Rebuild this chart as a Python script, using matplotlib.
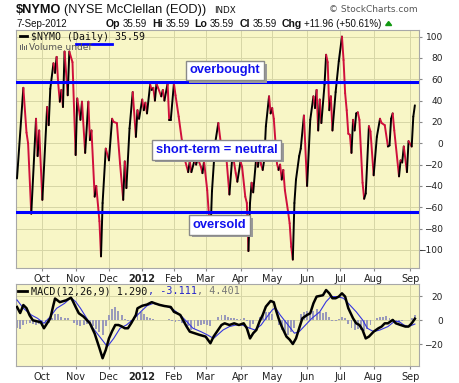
import matplotlib
matplotlib.use('Agg')
import numpy as np
import pandas as pd
import matplotlib.pyplot as plt
from matplotlib.collections import LineCollection
from matplotlib import patheffects as pe
from matplotlib.lines import Line2D
from matplotlib.patches import Rectangle, Polygon

# ---------------- data ----------------
holidays = ['2011-11-24', '2011-12-26', '2012-01-02', '2012-01-16', '2012-02-20',
            '2012-04-06', '2012-05-28', '2012-07-04', '2012-09-03']
start_date = '2011-09-09'
end_date = '2012-09-07'

month_labels = ['Oct', 'Nov', 'Dec', '2012', 'Feb', 'Mar', 'Apr', 'May', 'Jun', 'Jul', 'Aug', 'Sep']

# NYMO turning points (trading-day index, value)
nymo_day = [0, 4, 6, 7, 9, 12, 13, 14, 16, 19, 20, 21, 23, 24, 25, 26, 27, 28, 29, 30,
            32, 33, 35, 37, 38, 40, 41, 43, 45, 46, 47, 49, 50, 52, 53, 54, 56, 58, 60, 61,
            63, 65, 67, 68, 69, 71, 73, 75, 76, 77, 79, 80, 81, 82, 84, 85, 86, 87, 88, 89,
            91, 92, 93, 95, 96, 97, 99, 100, 102, 104, 106, 108, 109, 110, 112, 113, 114, 116, 117, 118,
            120, 121, 122, 123, 125, 127, 129, 131, 132, 134, 136, 138, 139, 141, 142, 144, 145, 146, 147, 148,
            149, 151, 152, 153, 154, 155, 156, 157, 159, 160, 161, 162, 164, 165, 166, 167, 168, 169, 171, 172,
            173, 174, 175, 176, 178, 179, 181, 183, 185, 187, 188, 189, 190, 191, 192, 194, 195, 196, 197, 198,
            199, 201, 203, 205, 206, 207, 208, 209, 210, 211, 212, 213, 214, 215, 216, 218, 219, 220, 222, 223,
            225, 227, 229, 230, 232, 234, 235, 236, 237, 238, 241, 242, 243, 244, 246, 247, 249, 250, 251]
nymo_val = [-33, 52, 10, 0, -66, 23, -12, 12, -53, 34, 17, 51, 75, 66, 81, 56, 39, 50, 34, 86,
            45, 86, 76, -11, 42, 22, 39, -9, 39, 3, 12, -50, -40, -73, -106, -56, -5, -16, 23, 20,
            19, -19, -53, -17, -42, 14, 48, 6, 31, 23, 41, 31, 38, 28, 55, 50, 52, 40, 56, 52,
            44, 50, 40, 56, 22, 22, 56, 45, 25, 3, -16, -27, -17, -27, -16, -20, -14, -22, -28, -17,
            -44, -66, -86, -45, 0, 19, -5, -16, -12, -48, -9, -28, -36, -17, -22, -50, -56, -101, -56, -37,
            -46, -12, -22, -10, -20, -25, -15, 16, 44, 28, 33, 23, -19, -25, -20, -34, -25, -44, -64, -75,
            -97, -109, -56, -34, -12, -5, 26, -40, 22, 44, 33, 50, 12, 41, 19, 55, 83, 76, 31, 44,
            12, 48, 77, 100, 78, 47, 31, 9, 8, -9, 22, 12, 28, 29, 22, -37, -52, -47, 16, 11,
            -30, 6, 23, 19, 17, -3, -2, 23, 28, 12, -31, -16, -18, -3, -27, 2, -3, 25, 35.59]

overbought = 57
oversold = -64

macd_day = [0, 2, 4, 6, 8, 10, 13, 15, 17, 19, 21, 23, 24, 27, 31, 34, 35, 37, 39, 42,
            46, 49, 52, 54, 56, 58, 60, 62, 64, 66, 68, 70, 72, 75, 76, 79, 82, 85, 87, 90,
            93, 97, 99, 101, 103, 105, 107, 109, 112, 115, 119, 122, 124, 129, 131, 134, 137, 140, 143, 145,
            147, 149, 151, 153, 155, 157, 160, 162, 163, 165, 167, 170, 172, 174, 176, 178, 180, 183, 185, 187,
            189, 193, 195, 197, 199, 201, 203, 205, 207, 209, 212, 214, 216, 218, 220, 222, 225, 228, 230, 232,
            234, 237, 239, 242, 245, 247, 249, 251]
macd_val = [11, 6, 12.6, 10, 4, 0, -1, -1.5, -6.6, -2.5, 1.6, 12.7, 18, 15, 16.5, 18.7, 16.5, 11, 5.8, 3,
            -2.5, -11, -23, -31.4, -24.5, -15, -9, -3.9, -3.9, -5, -6.6, -6.6, -2.5, 4.4, 9.9, 12, 13, 15, 14, 12.7,
            11.8, 11, 7, 5.8, 4.4, -0.5, -5.2, -9.4, -10.7, -12, -13.5, -19, -13.5, -3.9, -2.5, -3.9, -2.5, -3.9, -2.5, -6.6,
            -15, -10.7, -8, -1, 4.4, 11.3, 16, 14.9, 10, 1.6, -5.2, -13.5, -16, -19.6, -15, -6.6, 1.6, 4.4, 5.8, 14,
            19.6, 20.7, 25, 22.3, 18.2, 18.2, 19.6, 22.3, 19.6, 10, 1.6, -2.5, -3.9, -8, -15, -13.5, -9.4, -6.6, -5.2, -2.5,
            -2.5, 0.3, -2.5, -3.9, -5.2, -5.2, -2.5, 1.29]

signal_day = [0, 4, 9, 13, 17, 21, 25, 30, 34, 37, 40, 44, 48, 53, 57, 61, 65, 69, 74, 78,
              82, 86, 90, 95, 99, 103, 107, 111, 116, 120, 124, 130, 134, 138, 142, 147, 150, 154, 157, 161,
              163, 166, 171, 175, 178, 182, 186, 191, 195, 198, 202, 206, 209, 214, 218, 221, 225, 229, 234, 238,
              241, 244, 247, 251]
signal_val = [16.8, 10, 4.4, 1.6, -2.5, 3, 9.9, 14, 18.7, 15.4, 10, 1.6, -6.6, -15, -21.8, -15, -6.6, -3.9, 1.6, 7,
              12, 14, 12.7, 11.3, 8.5, 4.4, -1, -6.6, -9.4, -12, -15, -8, -5.2, -3.9, -3.9, -6.6, -8, -3.9, 1.6, 8.5,
              10.5, 4.4, -3.9, -10.7, -9.4, -3.9, 1.6, 7, 15.4, 19.6, 19.6, 18.2, 14, 7, 0.3, -6.6, -9.4, -8, -5.2, -1,
              -1, -3.9, -5.2, -3.111]

hist_day = [0, 2, 4, 6, 8, 10, 12, 14, 16, 18, 20, 22, 24, 26, 28, 30, 32, 34, 36, 38,
            40, 42, 44, 46, 48, 50, 52, 54, 56, 58, 60, 62, 64, 66, 68, 70, 72, 74, 76, 78,
            80, 82, 84, 86, 88, 90, 92, 94, 96, 98, 100, 102, 104, 106, 108, 110, 112, 114, 116, 118,
            120, 122, 124, 127, 129, 131, 133, 135, 137, 139, 141, 143, 145, 147, 149, 151, 153, 155, 157, 159,
            161, 163, 165, 167, 169, 171, 173, 175, 177, 179, 181, 183, 185, 187, 189, 191, 193, 195, 197, 199,
            201, 203, 205, 207, 209, 211, 213, 215, 217, 219, 221, 223, 225, 227, 229, 231, 233, 235, 237, 239,
            241, 243, 245, 247, 249, 251]
hist_val = [-6, -7, -4, -3, -2, -3, -4, -3, -5, -4, -2, 2, 5, 5, 3, 2, 1.5, 0.5, -2, -4,
            -5, -4, -3, -4, -5, -7, -10, -12, -5, 4, 9, 11, 8, 4, 1, -1, -1, 3, 6, 7,
            5, 3, 2, 1, 0.5, 0.3, 0, 0.3, 0.8, -1, -1.5, -1, -2, -3, -5, -8, -7, -5, -4, -3,
            -3.5, -5, 0, 3, 4, 4, 3, 2, 2, 1, 1, 2, -1, -7, -3, 0, 3, 5, 7, 7,
            5, 0, -4, -8, -10, -12, -10, -6, 0, 5, 7, 8, 6, 8, 9, 7, 6, 7, 3, -1,
            -1, 1, 3, 2, -3, -6, -8, -7, -8, -9, -7, -4, 0, 1.5, 2.5, 3, 3.5, 2, 1, -1,
            -2, -1, 0, 0.5, 1.5, 4.401]

# ---------------- layout helpers ----------------
W, H = 460, 383
fig = plt.figure(figsize=(W / 100, H / 100), dpi=100)
fig.patch.set_facecolor('white')
renderer = fig.canvas.get_renderer()


def fx(x):
    return x / W


def fy(y):
    return 1 - y / H


def chain(x0, y, items):
    """items: list of (text, kwargs, gap_px_after)"""
    x = x0
    for s, kw, gap in items:
        t = fig.text(fx(x), fy(y), s, **kw)
        bb = t.get_window_extent(renderer)
        x = bb.x1 + gap
    return x


PANEL = '#f8f6c6'
GRID = '#d6d6a6'
SPINE = '#a8a8a8'
RED = '#d0103c'
BLUE = '#0000ff'

days = pd.bdate_range(start_date, end_date, freq='C', holidays=holidays)
month_idx = [i for i in range(1, len(days)) if days[i].month != days[i - 1].month]

xl = (-0.63, 253.6)

ax1 = fig.add_axes([fx(16), fy(268), fx(419) - fx(16), (268 - 30) / H])
ax2 = fig.add_axes([fx(16), fy(366), fx(419) - fx(16), (366 - 284) / H])

for ax in (ax1, ax2):
    ax.set_facecolor(PANEL)
    ax.set_xlim(*xl)
    ax.set_xticks(month_idx)
    ax.set_xticklabels(month_labels)
    for lab in ax.get_xticklabels():
        lab.set_fontsize(7)
        lab.set_family('DejaVu Sans')
        lab.set_color('#222222')
        if lab.get_text() == '2012':
            lab.set_fontweight('bold')
    ax.grid(True, color=GRID, lw=0.7)
    ax.set_axisbelow(True)
    for s in ax.spines.values():
        s.set_color(SPINE)
        s.set_linewidth(0.8)
    ax.yaxis.tick_right()
    ax.tick_params(axis='x', length=2, pad=2.5, color='#888888')
    ax.tick_params(axis='y', length=2, pad=15.3, labelsize=6.5, color='#888888', labelcolor='#222222')

# ---- main panel ----
ax1.set_ylim(-116.9, 106.2)
ax1.set_yticks(list(range(-100, 101, 20)))
for lab in ax1.get_yticklabels():
    lab.set_horizontalalignment('right')

pts = np.column_stack([nymo_day, nymo_val])
segs = [pts[i:i + 2] for i in range(len(pts) - 1)]
cols = ['black' if nymo_val[i + 1] >= nymo_val[i] else RED for i in range(len(pts) - 1)]
ax1.add_collection(LineCollection(segs, colors=cols, linewidths=1.4, capstyle='round', joinstyle='round', zorder=3))

ax1.axhline(overbought, color=BLUE, lw=2.2, zorder=4)
ax1.axhline(oversold, color=BLUE, lw=2.2, zorder=4)

# ---- MACD panel ----
ax2.set_ylim(-37.8, 30)
ax2.set_yticks([-20, 0, 20])
for lab in ax2.get_yticklabels():
    lab.set_horizontalalignment('right')
ax2.bar(hist_day, hist_val, width=1.2, color='#9a9abb', edgecolor='none', zorder=2)
ax2.plot(signal_day, signal_val, color='#3535e0', lw=0.8, zorder=3)
ax2.plot(macd_day, macd_val, color='black', lw=1.8, zorder=4)

# ---------------- header text ----------------
INK = '#111111'
hb = dict(family='Liberation Sans', color=INK)
chain(16, 13, [
    ('$NYMO', dict(fontsize=9.2, fontweight='bold', **hb), 3),
    ('(NYSE McClellan (EOD))', dict(fontsize=9.2, **hb), 8),
    ('INDX', dict(fontsize=6.3, family='DejaVu Sans', color=INK), 0),
])
fig.text(fx(418), fy(12.5), '\u00a9 StockCharts.com', fontsize=6.5, family='DejaVu Sans', color='#555555', ha='right')

fig.text(fx(16), fy(27), '7-Sep-2012', fontsize=7, family='Liberation Sans', color=INK)
lab_kw = dict(fontsize=7.6, fontweight='bold', **hb)
val_kw = dict(fontsize=7, **hb)
endx = chain(106, 27, [
    ('Op', lab_kw, 2.5), ('35.59', val_kw, 5),
    ('Hi', lab_kw, 2.5), ('35.59', val_kw, 5),
    ('Lo', lab_kw, 2.5), ('35.59', val_kw, 5),
    ('Cl', lab_kw, 2.5), ('35.59', val_kw, 5),
    ('Chg', lab_kw, 2.5), ('+11.96 (+50.61%)', val_kw, 4),
])
fig.add_artist(Polygon([[fx(endx), fy(25.5)], [fx(endx + 6), fy(25.5)], [fx(endx + 3), fy(21.5)]],
                       closed=True, transform=fig.transFigure, color='#119911'))

# legend in main panel
fig.add_artist(Line2D([fx(20), fx(27)], [fy(36), fy(36)], transform=fig.transFigure, color='black', lw=2))
fig.text(fx(31), fy(39.5), '$NYMO (Daily) 35.59', fontsize=7.1, family='DejaVu Sans Mono', color=INK)
fig.add_artist(Line2D([fx(76), fx(112)], [fy(44), fy(44)], transform=fig.transFigure, color=BLUE, lw=2))
for i, hh in enumerate([4, 6, 3, 5]):
    fig.add_artist(Rectangle((fx(20 + i * 2), fy(49.5)), 1.3 / W, hh / H, transform=fig.transFigure,
                             color='#666666', lw=0))
fig.text(fx(29), fy(49.5), 'Volume undef', fontsize=6.5, family='DejaVu Sans', color='#555555')

# MACD legend
fig.add_artist(Line2D([fx(18), fx(27)], [fy(290.5), fy(290.5)], transform=fig.transFigure, color='black', lw=2))
mk = dict(fontsize=7.3, family='DejaVu Sans Mono')
chain(31.5, 294, [
    ('MACD(12,26,9) 1.290', dict(color=INK, **mk), 0),
    (', -3.111', dict(color='#2525cc', **mk), 0),
    (', 4.401', dict(color='#777777', **mk), 0),
])


# annotation boxes
def note(x, y, s):
    t = fig.text(fx(x), fy(y), s, fontsize=9.3, fontweight='bold', family='Liberation Sans', color='#1010ee',
                 va='center', ha='left', zorder=10,
                 bbox=dict(boxstyle='square,pad=0.28', fc='white', ec='#8a8a8a', lw=1))
    t.get_bbox_patch().set_path_effects([pe.SimplePatchShadow(offset=(2, -2), shadow_rgbFace='#9a9a9a', alpha=1),
                                         pe.Normal()])


note(189.5, 70.5, 'overbought')
note(156, 150, 'short-term = neutral')
note(192.5, 225, 'oversold')

fig.savefig('out.png', dpi=100, facecolor='white')
